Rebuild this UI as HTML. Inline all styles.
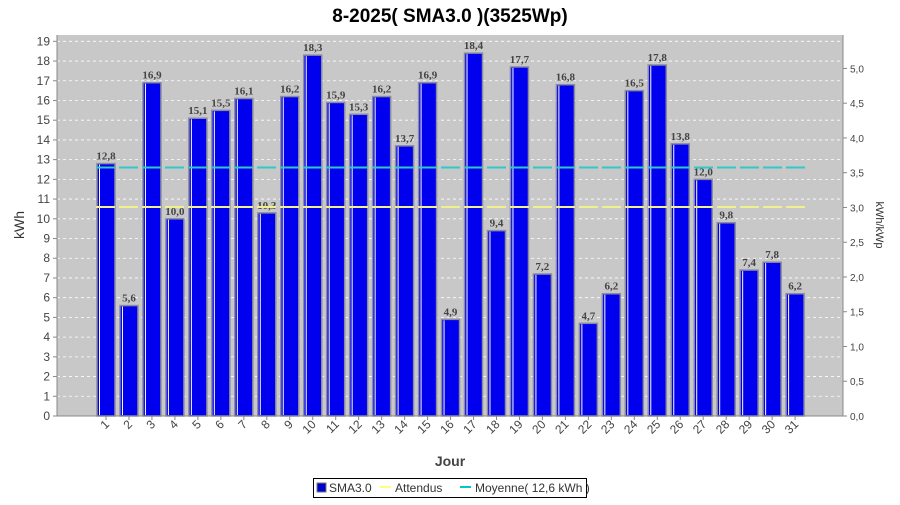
<!DOCTYPE html>
<html><head><meta charset="utf-8"><style>
body{margin:0;background:#fff;font-family:"Liberation Sans",sans-serif}
</style></head><body>
<svg width="900" height="500" xmlns="http://www.w3.org/2000/svg">
<text x="450" y="22" text-anchor="middle" font-size="19" font-weight="bold" fill="#000">8-2025( SMA3.0 )(3525Wp)</text>
<rect x="57" y="35" width="786" height="381" fill="#c8c8c8"/>
<g id="grid"></g>
<g id="bars"></g>
<g id="lines"></g>
<g id="axes"></g>
<text transform="translate(24,225) rotate(-90)" text-anchor="middle" font-size="14" fill="#333">kWh</text>
<text transform="translate(876,225) rotate(90)" text-anchor="middle" font-size="11" fill="#333">kWh/kWp</text>
<text x="450" y="466" text-anchor="middle" font-size="14" font-weight="bold" fill="#444">Jour</text>
<g>
<rect x="313.5" y="478.5" width="273" height="19" fill="#fff" stroke="#000"/>
<rect x="317" y="483" width="9" height="9" fill="#0000cc" stroke="#777"/>
<text x="329" y="492" font-size="12" fill="#333">SMA3.0</text>
<line x1="380" y1="487" x2="391" y2="487" stroke="#ffff80" stroke-width="2"/>
<text x="395" y="492" font-size="12" fill="#333">Attendus</text>
<line x1="460" y1="487" x2="471" y2="487" stroke="#00c8c8" stroke-width="2"/>
<text x="475" y="492" font-size="12" fill="#333">Moyenne( 12,6 kWh )</text>
</g>
</svg>
<script>
const days=[1,2,3,4,5,6,7,8,9,10,11,12,13,14,15,16,17,18,19,20,21,22,23,24,25,26,27,28,29,30,31];
const values=[12.8,5.6,16.9,10.0,15.1,15.5,16.1,10.3,16.2,18.3,15.9,15.3,16.2,13.7,16.9,4.9,18.4,9.4,17.7,7.2,16.8,4.7,6.2,16.5,17.8,13.8,12.0,9.8,7.4,7.8,6.2];
const expected=10.6;
const average=12.6;
const yTicks=[0,1,2,3,4,5,6,7,8,9,10,11,12,13,14,15,16,17,18,19];
const y2Ticks=[0,0.5,1,1.5,2,2.5,3,3.5,4,4.5,5];
const kwp=3.525;
const NS="http://www.w3.org/2000/svg";
const y=v=>416-v*19.72;
const x=i=>106+i*22.97;
function mk(p,t,a){const e=document.createElementNS(NS,t);for(const k in a)e.setAttribute(k,a[k]);p.appendChild(e);return e;}
const grid=document.getElementById('grid'),bars=document.getElementById('bars'),lines=document.getElementById('lines'),axes=document.getElementById('axes');
yTicks.forEach(t=>{
 if(t>0){const g=mk(grid,'line',{x1:57,x2:843,y1:y(t),y2:y(t),stroke:'#fff','stroke-dasharray':'3,3','stroke-width':0.8});
 
 }
 mk(axes,'line',{x1:53,x2:57,y1:y(t),y2:y(t),stroke:'#888'});
 const l=mk(axes,'text',{x:50,y:y(t)+4,'text-anchor':'end','font-size':12,fill:'#444'});l.textContent=t;
 
 
});
y2Ticks.forEach(t=>{
 mk(axes,'line',{x1:843,x2:847,y1:y(t*kwp),y2:y(t*kwp),stroke:'#888'});
 const l=mk(axes,'text',{x:850,y:y(t*kwp)+4,'font-size':10,fill:'#444'});l.textContent=t.toFixed(1).replace('.',',');
 
 
});
mk(axes,'line',{x1:57,x2:57,y1:35,y2:416,stroke:'#888'});
mk(axes,'line',{x1:843,x2:843,y1:35,y2:416,stroke:'#888'});
mk(axes,'line',{x1:57,x2:843,y1:416,y2:416,stroke:'#888'});
values.forEach((v,i)=>{
 const cx=x(i);
 const r=mk(bars,'rect',{x:cx-9,y:y(v),width:18,height:416-y(v),fill:'#0000ee',stroke:'#8a8aa0','stroke-width':1.5});
 
 
 mk(bars,'line',{x1:cx-6.5,x2:cx-6.5,y1:y(v)+1,y2:415,stroke:'#fff','stroke-width':1});
 const t=mk(bars,'text',{x:cx,y:y(v)-4,'text-anchor':'middle','font-size':11,'font-weight':'bold','font-family':'Liberation Serif,serif',fill:'#444'});
 t.textContent=v.toFixed(1).replace('.',',');
 
 
 mk(axes,'line',{x1:cx,x2:cx,y1:416,y2:420,stroke:'#888'});
 const d=mk(axes,'text',{'text-anchor':'end','font-size':12,fill:'#444',transform:`translate(${cx+4},${425}) rotate(-45)`});
 d.textContent=days[i];
 
 
});
const la=mk(lines,'line',{x1:x(0)-10,x2:x(30)+10,y1:y(expected),y2:y(expected),stroke:'#f0f08c','stroke-width':2,'stroke-dasharray':'19,4'});


const lm=mk(lines,'line',{x1:x(0)-10,x2:x(30)+10,y1:y(average),y2:y(average),stroke:'#30c8c8','stroke-width':2,'stroke-dasharray':'19,4'});


</script>
</body></html>
